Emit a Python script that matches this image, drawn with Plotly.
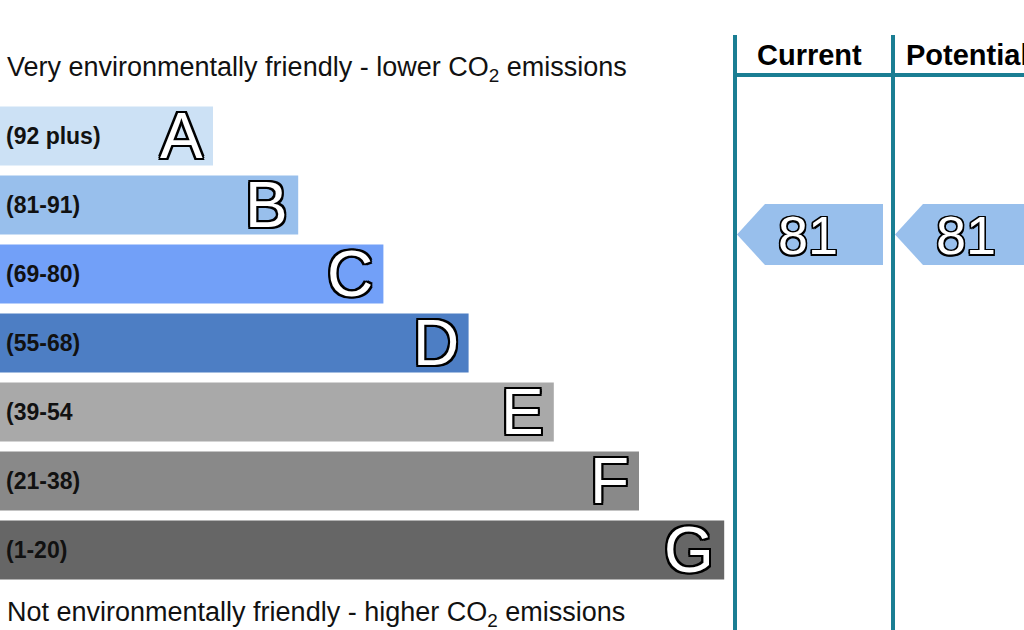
import plotly.graph_objects as go

# EPC style environmental impact (CO2) rating chart
bands = ['A', 'B', 'C', 'D', 'E', 'F', 'G']
band_ranges = ['(92 plus)', '(81-91)', '(69-80)', '(55-68)', '(39-54', '(21-38)', '(1-20)']
band_lo = [92, 81, 69, 55, 39, 21, 1]
band_hi = [100, 91, 80, 68, 54, 38, 20]
bar_length = [5, 7, 9, 11, 13, 15, 17]
band_colors = ['#cce1f5', '#98bfec', '#72a0f8', '#4d7ec4', '#a9a9a9', '#898989', '#666666']

columns = ['Current', 'Potential']
ratings = [81, 81]

top_text = 'Very environmentally friendly - lower CO<sub>2</sub> emissions'
bottom_text = 'Not environmentally friendly - higher CO<sub>2</sub> emissions'

FONT = 'Liberation Sans, Arial, sans-serif'
TEAL = '#1a7e93'


def outline(s):
    pairs = [('-' + s, '-' + s), (s, '-' + s), ('-' + s, s), (s, s),
             ('0', s), ('0', '-' + s), (s, '0'), ('-' + s, '0')]
    return ', '.join('%s %s 0 #000' % p for p in pairs)


PX = 42.6   # pixels per x unit
PY = 69.0   # pixels per band
bar_w = 0.855
col_x0 = [735 / PX, 893 / PX]

ypos = list(range(len(bands)))

fig = go.Figure()
fig.add_trace(go.Bar(
    x=bar_length, y=ypos, orientation='h', width=bar_w,
    marker=dict(color=band_colors, line=dict(width=0)),
    hoverinfo='skip', showlegend=False,
))

# rating arrows
for c, (name, score) in enumerate(zip(columns, ratings)):
    i = next(k for k in range(len(bands)) if band_lo[k] <= score <= band_hi[k])
    yc = i + bar_w / 2 - bar_w * (score - band_lo[i]) / (band_hi[i] - band_lo[i] + 1)
    h = 0.442
    tip = col_x0[c] + 2 / PX
    flat = tip + 28 / PX
    right = col_x0[c] + 148 / PX
    fig.add_trace(go.Scatter(
        x=[tip, flat, right, right, flat, tip], y=[yc, yc - h, yc - h, yc + h, yc + h, yc],
        mode='lines', fill='toself', fillcolor=band_colors[i], line=dict(width=0),
        hoverinfo='skip', showlegend=False,
    ))
    fig.add_annotation(x=col_x0[c] + 73 / PX, y=yc, text=str(score), showarrow=False,
                       xanchor='center', yanchor='middle',
                       font=dict(family=FONT, size=54, color='white', shadow=outline('1.5px')))
    fig.add_annotation(x=col_x0[c] + 74 / PX, y=1 - 55 / 630, yref='paper', text='<b>%s</b>' % name,
                       showarrow=False, xanchor='center', yanchor='middle',
                       font=dict(family=FONT, size=29, color='black'))

for i, b in enumerate(bands):
    fig.add_annotation(x=bar_length[i], y=i, text=b, showarrow=False, xanchor='right', xshift=-8,
                       yanchor='middle', font=dict(family=FONT, size=64, color='white', shadow=outline('2px')))
    fig.add_annotation(x=4 / 1024, xref='paper', y=i, text='<b>%s</b>' % band_ranges[i], showarrow=False,
                       xanchor='left', yanchor='middle', font=dict(family=FONT, size=23, color='#111'))

fig.add_annotation(x=5 / 1024, xref='paper', y=1 - 69 / 630, yref='paper', text=top_text, showarrow=False,
                   xanchor='left', yanchor='middle', font=dict(family=FONT, size=27, color='#111'))
fig.add_annotation(x=5 / 1024, xref='paper', y=1 - 614 / 630, yref='paper', text=bottom_text, showarrow=False,
                   xanchor='left', yanchor='middle', font=dict(family=FONT, size=27, color='#111'))

# column frame
for x0 in col_x0:
    fig.add_shape(type='line', x0=x0, x1=x0, y0=0, y1=1 - 35 / 630, yref='paper',
                  line=dict(color=TEAL, width=4))
fig.add_shape(type='line', x0=col_x0[0], x1=30, xref='x', y0=1 - 75 / 630, y1=1 - 75 / 630, yref='paper',
              line=dict(color=TEAL, width=4))

fig.update_layout(
    width=1024, height=630,
    margin=dict(l=0, r=0, t=0, b=0),
    plot_bgcolor='white', paper_bgcolor='white',
    xaxis=dict(range=[0, 1024 / PX], visible=False, fixedrange=True),
    yaxis=dict(range=[(630 - 136) / PY, -136 / PY], visible=False, fixedrange=True),
)

fig.write_html("out.html", config={'displayModeBar': False},
               post_script="document.body.style.margin='0';")
